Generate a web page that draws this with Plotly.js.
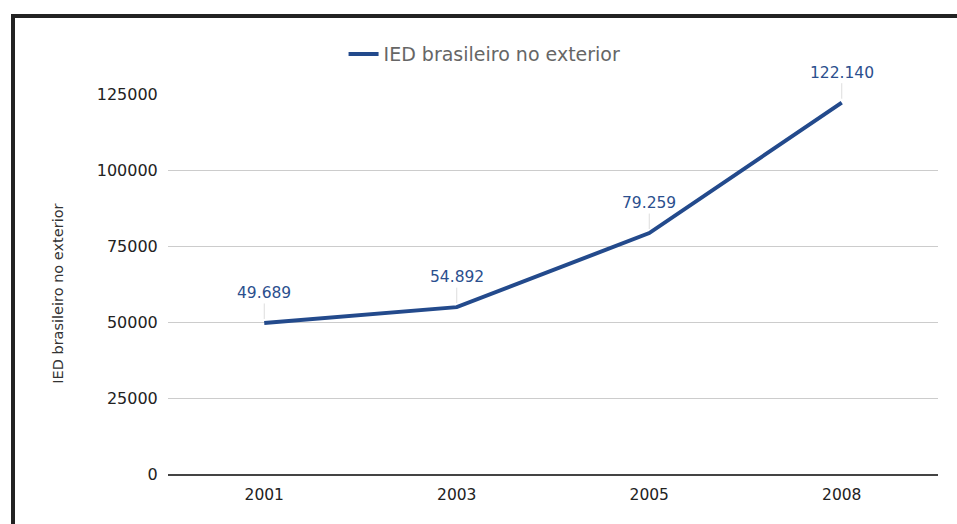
<!DOCTYPE html>
<html>
<head>
<meta charset="utf-8">
<script src="https://cdn.plot.ly/plotly-3.0.1.min.js"></script>
<style>
  html, body { margin: 0; padding: 0; background: #fff; }
  #wrap { position: relative; width: 957px; height: 524px; overflow: hidden; }
  #chart { position: absolute; left: 0; top: 0; width: 957px; height: 524px; }
  #frame { position: absolute; left: 11px; top: 14px; width: 960px; height: 520px;
           border-left: 4px solid #222; border-top: 4px solid #222; pointer-events: none; }
</style>
</head>
<body>
<div id="wrap">
  <div id="chart"></div>
  <div id="frame"></div>
</div>
<script>
const years = ['2001', '2003', '2005', '2008'];
const values = [49689, 54892, 79259, 122140];
const seriesName = 'IED brasileiro no exterior';
const yTicks = [0, 25000, 50000, 75000, 100000, 125000];

function fmt(v) {
  return String(v).replace(/\B(?=(\d{3})+(?!\d))/g, '.');
}

const FONT = '"DejaVu Sans", Roboto, sans-serif';
const lineColor = '#234a8c';

const trace = {
  type: 'scatter',
  mode: 'lines',
  x: years,
  y: values,
  name: seriesName,
  line: { color: lineColor, width: 4 },
  showlegend: true
};

const annotations = years.map((yr, i) => ({
  x: i, y: values[i], xref: 'x', yref: 'y',
  text: fmt(values[i]),
  showarrow: true, arrowhead: 0, arrowwidth: 1, arrowcolor: '#dddddd',
  ax: 0, ay: -30, standoff: 4,
  font: { family: FONT, size: 15.5, color: '#2b4f8e' }
}));

// y-axis title, placed as in the reference
annotations.push({
  xref: 'paper', yref: 'paper', x: -0.143, y: 0.474,
  xanchor: 'center', yanchor: 'middle', textangle: -90, showarrow: false,
  text: seriesName,
  font: { family: FONT, size: 14.5, color: '#333' }
});

const layout = {
  width: 957, height: 524,
  margin: { l: 168, r: 19, t: 94, b: 50 },
  paper_bgcolor: '#ffffff', plot_bgcolor: '#ffffff',
  font: { family: FONT, color: '#222' },
  showlegend: true,
  legend: {
    orientation: 'h', x: 0.228, xanchor: 'left', y: 1.105, yanchor: 'middle',
    font: { size: 19, color: '#666' }, bgcolor: 'rgba(0,0,0,0)'
  },
  xaxis: {
    type: 'category', categoryorder: 'array', categoryarray: years,
    range: [-0.5, years.length - 0.5], autorange: false,
    showgrid: false, zeroline: false,
    showline: true, linecolor: '#444', linewidth: 1.5,
    ticks: 'outside', ticklen: 6, tickcolor: 'rgba(0,0,0,0)',
    tickfont: { size: 15.5, color: '#222' }
  },
  yaxis: {
    range: [0, 125000], autorange: false, tickvals: yTicks, ticktext: yTicks.map(String),
    showgrid: true, gridcolor: '#cccccc', gridwidth: 1,
    zeroline: false, showline: false,
    ticks: 'outside', ticklen: 6, tickcolor: 'rgba(0,0,0,0)',
    tickfont: { size: 16, color: '#222' },
    automargin: false
  },
  annotations: annotations
};

Plotly.newPlot('chart', [trace], layout, { displayModeBar: false, staticPlot: true });
</script>
</body>
</html>
